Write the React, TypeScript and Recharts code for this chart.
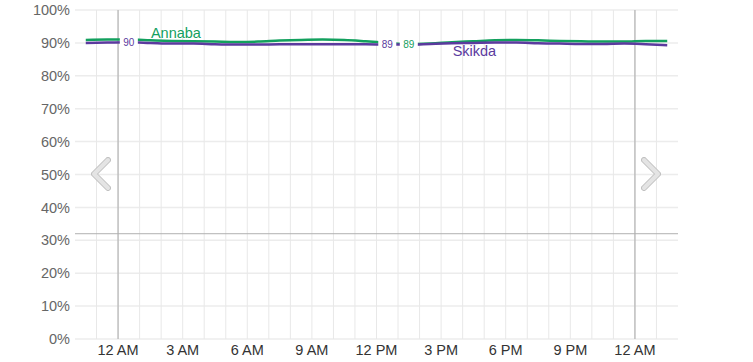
import React from 'react';
import {
  ComposedChart, Line, XAxis, YAxis, CartesianGrid, ReferenceLine, LabelList
} from 'recharts';

// hours relative to midnight (data points sit on half hours)
const hours = [
  -1.5, -0.5, 0.5, 1.5, 2.5, 3.5, 4.5, 5.5, 6.5, 7.5, 8.5, 9.5, 10.5, 11.5,
  12.5, 13.5, 14.5, 15.5, 16.5, 17.5, 18.5, 19.5, 20.5, 21.5, 22.5, 23.5, 24.5, 25.5,
];
const annaba = [
  90.9, 91.0, 91.0, 90.8, 90.6, 90.5, 90.4, 90.3, 90.4, 90.7, 90.9, 91.0, 90.9, 90.5,
  90.0, 89.6, 89.8, 90.2, 90.5, 90.8, 90.9, 90.8, 90.6, 90.5, 90.4, 90.4, 90.6, 90.6,
];
const skikda = [
  90.0, 90.1, 90.2, 90.0, 89.8, 89.8, 89.6, 89.5, 89.5, 89.6, 89.6, 89.6, 89.6, 89.6,
  89.5, 89.5, 89.7, 89.9, 90.0, 90.1, 90.1, 89.9, 89.8, 89.7, 89.7, 89.8, 89.6, 89.3,
];

const xTicks = [0, 3, 6, 9, 12, 15, 18, 21, 24];
const xTickLabels = ['12 AM', '3 AM', '6 AM', '9 AM', '12 PM', '3 PM', '6 PM', '9 PM', '12 AM'];
const yTicks = [0, 10, 20, 30, 40, 50, 60, 70, 80, 90, 100];
const gridHours = [-1, 1, 2, 3, 4, 5, 6, 7, 8, 9, 10, 11, 12, 13, 14, 15, 16, 17, 18, 19, 20, 21, 22, 23, 25];
const midnights = [0, 24];
const threshold = 32;

const skikdaTagIdx = [2, 14];
const annabaTagIdx = [15];
const annabaNameIdx = 4;
const skikdaNameIdx = 18;

const GREEN = '#13a05e';
const PURPLE = '#5b3a9e';
const FONT = '"Liberation Sans", Arial, sans-serif';

const data = hours.map((h, i) => ({ h, annaba: annaba[i], skikda: skikda[i] }));

const valueTag = (color: string, idx: number[]) => (props: any) => {
  const { x, y, value, index } = props;
  if (!idx.includes(index)) return null;
  return (
    <g>
      <rect x={x - 9} y={y - 6} width={18} height={12} fill="#fff" />
      <text x={x} y={y} dy={3.5} textAnchor="middle" fontSize={10} fill={color} fontFamily={FONT}>
        {Math.floor(value)}
      </text>
    </g>
  );
};

const nameTag = (color: string, name: string, at: number, dx: number, dy: number) => (props: any) => {
  const { x, y, index } = props;
  if (index !== at) return null;
  return (
    <text x={x + dx} y={y + dy} textAnchor="middle" fontSize={14.5} fill={color} fontFamily={FONT}>
      {name}
    </text>
  );
};

const Chevron = ({ left, dir }: { left: number; dir: 'l' | 'r' }) => {
  const pts = dir === 'l' ? '17,3 3,17 17,31' : '3,3 17,17 3,31';
  return (
    <svg width={20} height={34} style={{ position: 'absolute', left, top: 157 }}>
      <polyline points={pts} fill="none" stroke="#c2c2c2" strokeWidth={6} strokeLinecap="round" strokeLinejoin="round" />
      <polyline points={pts} fill="none" stroke="#e4e4e4" strokeWidth={4} strokeLinecap="round" strokeLinejoin="round" />
    </svg>
  );
};

export default function App() {
  return (
    <div style={{ position: 'absolute', left: 0, top: 0, width: 753, height: 362, background: '#fff', fontFamily: FONT }}>
      <ComposedChart width={753} height={362} data={data} margin={{ top: 10, right: 0, bottom: 0, left: 0 }}>
        <CartesianGrid yAxisId="left" vertical={false} stroke="#ececec" strokeWidth={1.5} />
        {gridHours.map((h) => (
          <ReferenceLine key={`g${h}`} yAxisId="left" x={h} stroke="#e8e8e8" strokeWidth={1} />
        ))}
        {midnights.map((h) => (
          <ReferenceLine key={`m${h}`} yAxisId="left" x={h} stroke="#bdbdbd" strokeWidth={1.5} />
        ))}
        <ReferenceLine yAxisId="left" y={threshold} stroke="#b0b0b0" strokeWidth={1} />
        <XAxis
          dataKey="h"
          type="number"
          domain={[-2, 26]}
          ticks={xTicks}
          tickFormatter={(v: number) => xTickLabels[xTicks.indexOf(v)]}
          axisLine={false}
          tickLine={false}
          tickSize={0}
          tickMargin={6}
          height={23}
          tick={{ fill: '#333', fontSize: 14.5, fontFamily: FONT }}
          interval={0}
        />
        <YAxis
          yAxisId="left"
          domain={[0, 100]}
          ticks={yTicks}
          tickFormatter={(v: number) => `${v}%`}
          axisLine={false}
          tickLine={false}
          tickSize={5}
          tickMargin={0}
          width={75}
          tick={{ fill: '#666', fontSize: 14.5, fontFamily: FONT }}
        />
        <YAxis
          yAxisId="right"
          orientation="right"
          domain={[0, 100]}
          ticks={yTicks}
          tickFormatter={(v: number) => `${v}%`}
          axisLine={false}
          tickLine={false}
          tickSize={4}
          tickMargin={0}
          width={75}
          tick={{ fill: '#666', fontSize: 14.5, fontFamily: FONT }}
        />
        <Line yAxisId="left" type="monotone" dataKey="annaba" stroke={GREEN} strokeWidth={2.5} dot={false} activeDot={false} isAnimationActive={false} />
        <Line yAxisId="left" type="monotone" dataKey="skikda" stroke={PURPLE} strokeWidth={2.5} dot={false} activeDot={false} isAnimationActive={false} />
        <Line yAxisId="left" dataKey="skikda" stroke="none" dot={false} activeDot={false} legendType="none" isAnimationActive={false}>
          <LabelList dataKey="skikda" content={valueTag(PURPLE, skikdaTagIdx)} />
        </Line>
        <Line yAxisId="left" dataKey="annaba" stroke="none" dot={false} activeDot={false} legendType="none" isAnimationActive={false}>
          <LabelList dataKey="annaba" content={valueTag(GREEN, annabaTagIdx)} />
          <LabelList dataKey="annaba" content={nameTag(GREEN, 'Annaba', annabaNameIdx, 4, -3)} />
        </Line>
        <Line yAxisId="left" dataKey="skikda" stroke="none" dot={false} activeDot={false} legendType="none" isAnimationActive={false}>
          <LabelList dataKey="skikda" content={nameTag(PURPLE, 'Skikda', skikdaNameIdx, 1, 13)} />
        </Line>
      </ComposedChart>
      <Chevron left={91} dir="l" />
      <Chevron left={641} dir="r" />
    </div>
  );
}
